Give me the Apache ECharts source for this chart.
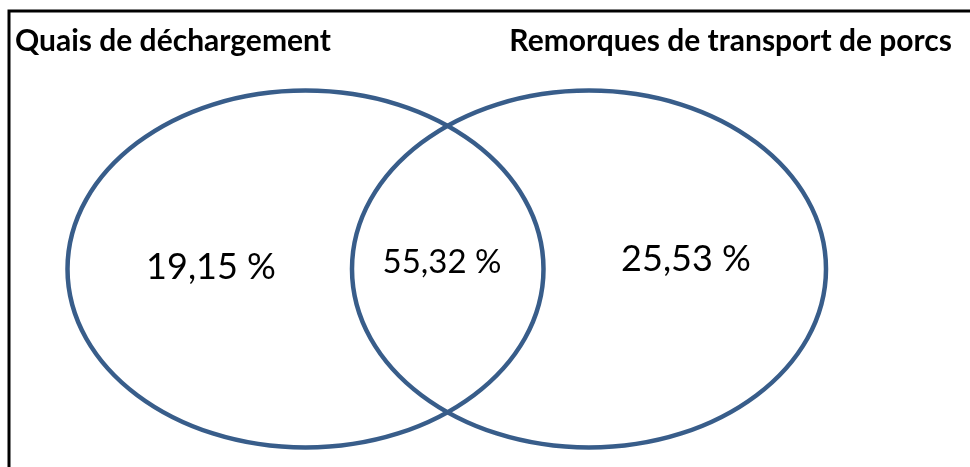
<!DOCTYPE html>
<html>
<head>
<meta charset="utf-8">
<script src="https://cdn.jsdelivr.net/npm/echarts@6/dist/echarts.min.js"></script>
<style>html,body{margin:0;padding:0;background:#fff}#c{width:970px;height:467px}</style>
</head>
<body>
<div id="c"></div>
<script>
// Data
const setNames = ['Quais de déchargement', 'Remorques de transport de porcs'];
const regionLabels = ['Quais de déchargement seulement', 'Les deux', 'Remorques seulement'];
const regionValues = [19.15, 55.32, 25.53];

// Layout (pixel-like data space)
const W = 970, H = 467;
const ellipses = [{cx: 305.5, cy: 269, rx: 238, ry: 178.5}, {cx: 589, cy: 269, rx: 237, ry: 178.5}];
const titlePos = [{x: 15, y: 41, align: 'left'}, {x: 952, y: 41, align: 'right'}];
const labelPos = [{x: 211, y: 267, size: 36}, {x: 442, y: 262, size: 33}, {x: 686, y: 259, size: 36}];
const stroke = '#385D8A';

const chart = echarts.init(document.getElementById('c'));
const fmt = v => v.toFixed(2).replace('.', ',') + ' %';

chart.setOption({
  animation: false,
  backgroundColor: '#fff',
  grid: {left: 0, right: 0, top: 0, bottom: 0},
  xAxis: {type: 'value', min: 0, max: W, show: false},
  yAxis: {type: 'value', min: 0, max: H, inverse: true, show: false},
  graphic: [{
    type: 'rect', shape: {x: 9, y: 11, width: 1000, height: 500},
    style: {fill: 'none', stroke: '#000', lineWidth: 3}, silent: true
  }],
  series: [{
    type: 'custom',
    data: setNames.map((n, i) => [i]),
    renderItem: (params, api) => {
      const i = api.value(0);
      const e = ellipses[i];
      const c = api.coord([e.cx, e.cy]);
      const s = api.size([e.rx, e.ry]);
      const tp = titlePos[i];
      const t = api.coord([tp.x, tp.y]);
      return {
        type: 'group',
        children: [{
          type: 'ellipse',
          shape: {cx: c[0], cy: c[1], rx: s[0], ry: s[1]},
          style: {fill: 'none', stroke: stroke, lineWidth: 4.5}
        }, {
          type: 'text',
          x: t[0], y: t[1],
          style: {text: setNames[i], fill: '#000', font: 'bold 30px Lato', textAlign: tp.align, textVerticalAlign: 'middle'}
        }]
      };
    }
  }, {
    type: 'custom',
    data: regionValues.map((v, i) => [i, v]),
    renderItem: (params, api) => {
      const i = api.value(0);
      const v = api.value(1);
      const lp = labelPos[i];
      const p = api.coord([lp.x, lp.y]);
      return {
        type: 'text',
        x: p[0], y: p[1],
        style: {text: fmt(v), fill: '#000', font: lp.size + 'px Lato', textAlign: 'center', textVerticalAlign: 'middle'}
      };
    }
  }]
});
</script>
</body>
</html>
